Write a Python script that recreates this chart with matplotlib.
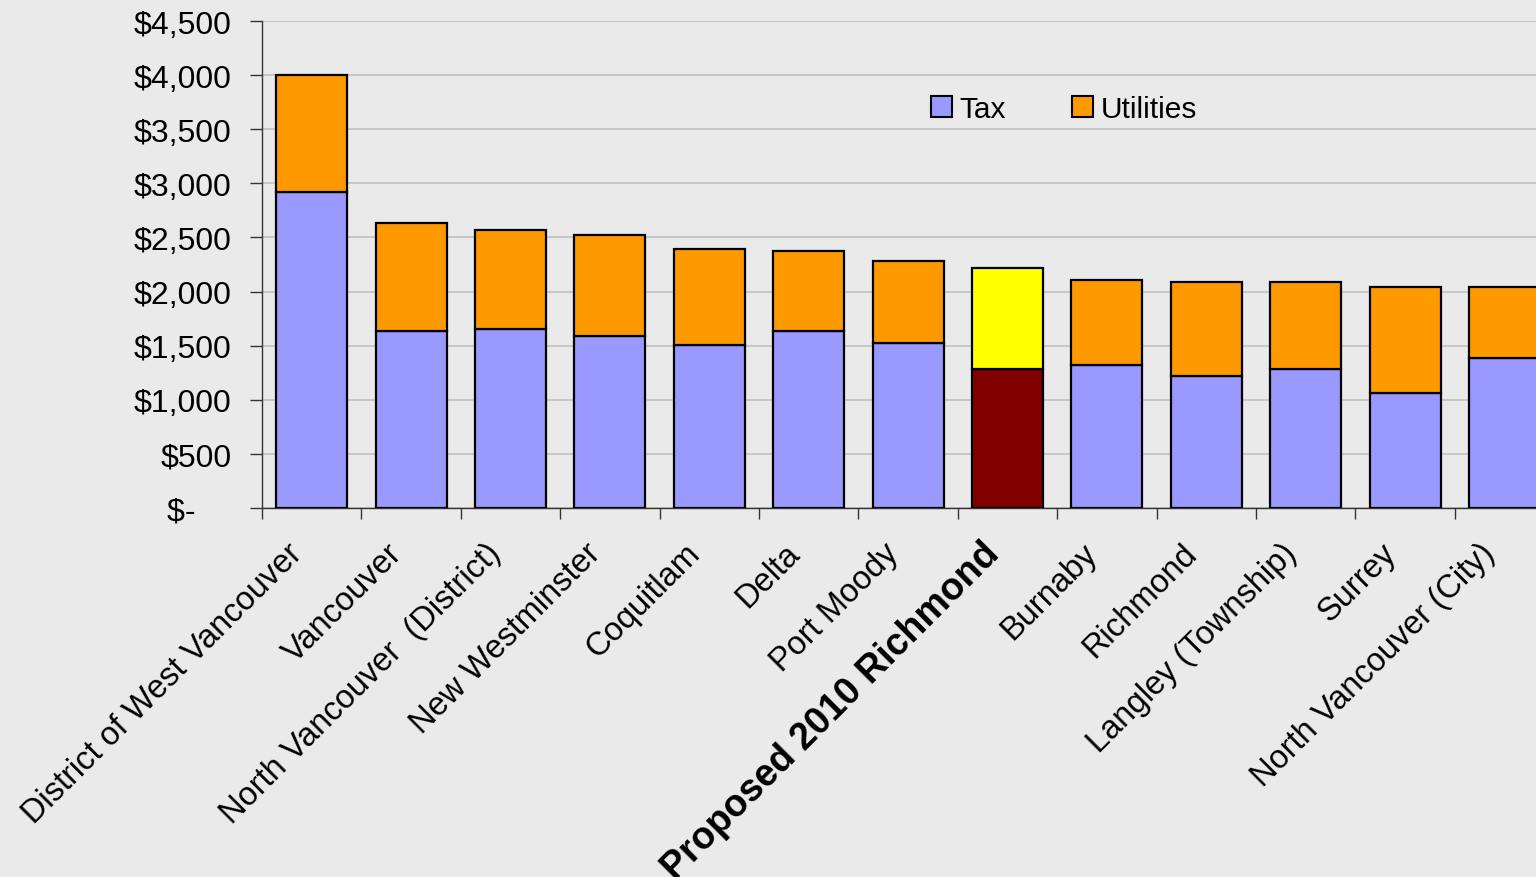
import numpy as np
import matplotlib
matplotlib.use('Agg')
from matplotlib import pyplot as plt
from matplotlib.patches import Patch
from matplotlib import transforms

plt.rcParams['font.family'] = ['Liberation Sans', 'DejaVu Sans']

# data
cities = ['District of West Vancouver', 'Vancouver', 'North Vancouver  (District)',
          'New Westminster', 'Coquitlam', 'Delta', 'Port Moody', 'Proposed 2010 Richmond',
          'Burnaby', 'Richmond', 'Langley (Township)', 'Surrey', 'North Vancouver (City)']
tax = [2917, 1635, 1652, 1590, 1506, 1636, 1525, 1281, 1320, 1216, 1281, 1061, 1389]
total = [4000, 2632, 2569, 2523, 2394, 2375, 2283, 2222, 2111, 2089, 2089, 2046, 2043]
utilities = [t - x for t, x in zip(total, tax)]
yticks = [0, 500, 1000, 1500, 2000, 2500, 3000, 3500, 4000, 4500]
highlight = 'Proposed 2010 Richmond'

BG = '#EAEAEA'
TAX_C = '#9999FF'
UTIL_C = '#FF9900'

fig = plt.figure(figsize=(15.36, 8.78), dpi=100, facecolor=BG)
ax = fig.add_axes([262/1536, 1-509/878, 13*99.4/1536, 487/878])
ax.set_facecolor(BG)

x = np.arange(len(cities))
tax_col = ['#800000' if c == highlight else TAX_C for c in cities]
util_col = ['#FFFF00' if c == highlight else UTIL_C for c in cities]
ax.bar(x, tax, width=0.715, color=tax_col, edgecolor='black', linewidth=1.6, zorder=3)
ax.bar(x, utilities, bottom=tax, width=0.715, color=util_col, edgecolor='black', linewidth=1.6, zorder=3)

ax.set_xlim(-0.5, len(cities) - 0.5)
ax.set_ylim(0, 4500)
ax.set_yticks(yticks)
ax.set_yticklabels(['$-    '] + ['${:,}'.format(v) for v in yticks[1:]])
ax.yaxis.grid(True, color='#C4C4C4', linewidth=1.3, zorder=0)
ax.tick_params(axis='y', length=9, width=1, color='#333333', labelsize=23, pad=13)

# ticks between categories, labels drawn by hand
ax.set_xticks(x)
ax.set_xticklabels([])
ax.tick_params(axis='x', which='major', length=0)
ax.set_xticks(np.arange(len(cities)) - 0.5, minor=True)
ax.tick_params(axis='x', which='minor', length=8, width=1, color='#333333')

for s in ['top', 'right']:
    ax.spines[s].set_visible(False)
for s in ['left', 'bottom']:
    ax.spines[s].set_color('#333333')
    ax.spines[s].set_linewidth(1)

off = transforms.ScaledTranslation(-14/100, -40/100, fig.dpi_scale_trans)
for i, c in enumerate(cities):
    bold = c == highlight
    ax.text(i, 0, c, transform=ax.get_xaxis_transform() + off,
            rotation=45, rotation_mode='anchor', ha='right', va='center',
            fontsize=27 if bold else 23.5, fontweight='bold' if bold else 'normal')

handles = [Patch(facecolor=TAX_C, edgecolor='black', linewidth=1.5, label='Tax'),
           Patch(facecolor=UTIL_C, edgecolor='black', linewidth=1.5, label='Utilities')]
fig.legend(handles=handles, loc='center', bbox_to_anchor=(1064/1536, 1-110/878),
           ncol=2, frameon=False, fontsize=21.5, handlelength=0.7, handleheight=0.7,
           handletextpad=0.25, columnspacing=2.2)

fig.savefig('out.png', dpi=100, facecolor=BG)
